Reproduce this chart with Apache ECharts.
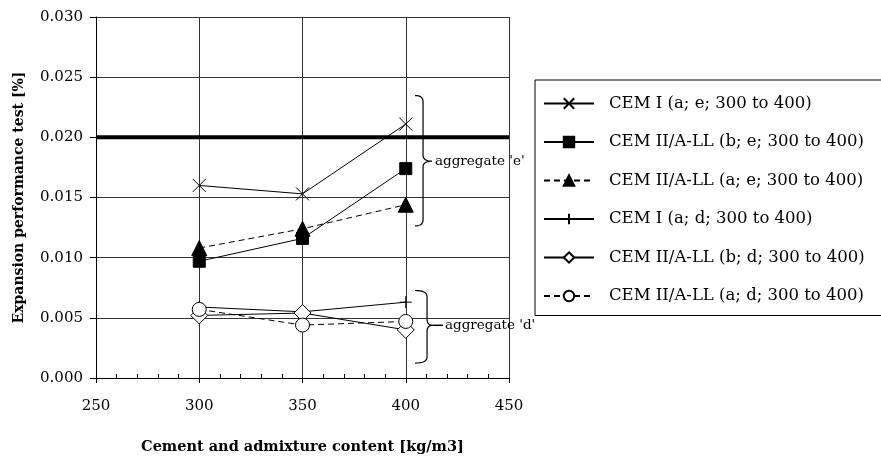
<!DOCTYPE html>
<html>
<head>
<meta charset="utf-8">
<script src="https://cdn.jsdelivr.net/npm/echarts@6/dist/echarts.min.js"></script>
<style>html,body{margin:0;padding:0;background:#fff}#c{width:881px;height:460px}</style>
</head>
<body>
<div id="c"></div>
<script>
// ---- data ----
const categories = [300, 350, 400];
const cemI_e   = [0.0160, 0.0153, 0.0211];
const cemII_b_e = [0.0097, 0.0116, 0.0174];
const cemII_a_e = [0.0108, 0.0124, 0.0144];
const cemI_d   = [0.0059, 0.0055, 0.0063];
const cemII_b_d = [0.0052, 0.0054, 0.0040];
const cemII_a_d = [0.0057, 0.0044, 0.0047];
const limitValue = 0.020;
const seriesNames = [
  'CEM I (a; e; 300 to 400)',
  'CEM II/A-LL (b; e; 300 to 400)',
  'CEM II/A-LL (a; e; 300 to 400)',
  'CEM I (a; d; 300 to 400)',
  'CEM II/A-LL (b; d; 300 to 400)',
  'CEM II/A-LL (a; d; 300 to 400)'
];
const annotationLabels = ["aggregate 'e'", "aggregate 'd'"];

const FONT = '"DejaVu Serif", "Liberation Serif", serif';
const pair = arr => categories.map((x, i) => [x, arr[i]]);

function lineSeries(name, data, symbol, size, fill, dashed) {
  return {
    name, type: 'line', data: pair(data),
    symbol, symbolSize: size,
    lineStyle: { color: '#000', width: 1, type: dashed ? [6, 4] : 'solid' },
    itemStyle: { color: fill, borderColor: '#000', borderWidth: 1 },
    emphasis: { disabled: true },
    z: 3
  };
}

const chart = echarts.init(document.getElementById('c'), null, { renderer: 'canvas' });
const option = {
  animation: false,
  backgroundColor: '#fff',
  textStyle: { fontFamily: FONT, color: '#000' },
  grid: { left: 96, top: 17, right: 372, bottom: 80, containLabel: false },
  xAxis: [{
    type: 'value', min: 250, max: 450, interval: 50,
    name: 'Cement and admixture content [kg/m3]',
    nameLocation: 'middle', nameGap: 62,
    nameTextStyle: { fontFamily: FONT, fontWeight: 'bold', fontSize: 14.5, color: '#000' },
    axisLine: { show: true, lineStyle: { color: '#000', width: 1 } },
    axisTick: { show: true, length: 5, lineStyle: { color: '#000' } },
    axisLabel: { fontFamily: FONT, fontSize: 15, color: '#000', margin: 21 },
    splitLine: { show: true, lineStyle: { color: '#333', width: 1 } }
  }, {
    type: 'value', min: 250, max: 450, interval: 50, position: 'bottom',
    axisLine: { show: false }, axisLabel: { show: false },
    axisTick: { show: false, inside: true },
    minorTick: { show: true, splitNumber: 5, length: 4, lineStyle: { color: '#000' } },
    splitLine: { show: false }
  }],
  yAxis: {
    type: 'value', min: 0, max: 0.03, interval: 0.005,
    name: 'Expansion performance test [%]',
    nameLocation: 'middle', nameGap: 70,
    nameTextStyle: { fontFamily: FONT, fontWeight: 'bold', fontSize: 14, color: '#000' },
    axisLine: { show: true, lineStyle: { color: '#000', width: 1 } },
    axisTick: { show: true, length: 6, lineStyle: { color: '#000' } },
    axisLabel: { fontFamily: FONT, fontSize: 15, color: '#000', margin: 13,
      formatter: v => v.toFixed(3) },
    splitLine: { show: true, lineStyle: { color: '#333', width: 1 } }
  },
  legend: {
    orient: 'vertical', left: 535, top: 80,
    data: seriesNames,
    padding: [15, 400, 11, 8],
    itemWidth: 50, itemHeight: 13, itemGap: 21.5,
    borderColor: '#000', borderWidth: 1,
    textStyle: { fontFamily: FONT, fontSize: 16.5, color: '#000', padding: [0, 0, 0, 10] },
    selectedMode: false
  },
  series: [
    {
      name: 'limit', type: 'line',
      data: [[250, limitValue], [450, limitValue]],
      symbol: 'none', lineStyle: { color: '#000', width: 4 }, z: 2,
      emphasis: { disabled: true }
    },
    lineSeries(seriesNames[0], cemI_e, 'path://M0,0L10,10M0,10L10,0', 13, 'transparent', false),
    lineSeries(seriesNames[1], cemII_b_e, 'rect', 12, '#000', false),
    lineSeries(seriesNames[2], cemII_a_e, 'triangle', 15, '#000', true),
    lineSeries(seriesNames[3], cemI_d, 'path://M5,0L5,10M0,5L10,5', 12, 'transparent', false),
    lineSeries(seriesNames[4], cemII_b_d, 'diamond', 17, '#fff', false),
    lineSeries(seriesNames[5], cemII_a_d, 'circle', 14, '#fff', true)
  ]
};
chart.setOption(option);

// ---- braces + annotation labels (anchored in data coordinates) ----
const braces = [
  { x: 404.5, yTop: 0.02347, yBot: 0.01264, yMid: 0.01802, wv: 8, wp: 17, label: annotationLabels[0], dash: false },
  { x: 404.5, yTop: 0.00727, yBot: 0.00124, yMid: 0.00438, wv: 12, wp: 18, label: annotationLabels[1], dash: true }
];
function quad(p0, p1, p2, out) {
  for (let i = 0; i <= 8; i++) {
    const t = i / 8, a = (1 - t) * (1 - t), b = 2 * (1 - t) * t, c = t * t;
    out.push([a * p0[0] + b * p1[0] + c * p2[0], a * p0[1] + b * p1[1] + c * p2[1]]);
  }
}
const gfx = [];
braces.forEach(b => {
  const t = chart.convertToPixel({ gridIndex: 0 }, [b.x, b.yTop]);
  const bt = chart.convertToPixel({ gridIndex: 0 }, [b.x, b.yBot]);
  const m = chart.convertToPixel({ gridIndex: 0 }, [b.x, b.yMid]);
  const x0 = t[0], xv = x0 + b.wv, xp = x0 + b.wp, r = 6;
  const y0 = t[1], y1 = bt[1], ym = m[1];
  const pts = [];
  quad([x0, y0], [xv, y0], [xv, y0 + r], pts);
  quad([xv, ym - r], [xv, ym], [xp, ym], pts);
  quad([xp, ym], [xv, ym], [xv, ym + r], pts);
  quad([xv, y1 - r], [xv, y1], [x0, y1], pts);
  gfx.push({ type: 'polyline', shape: { points: pts }, style: { stroke: '#000', lineWidth: 1.2, fill: null }, z: 10 });
  let tx = xp + 3;
  if (b.dash) {
    gfx.push({ type: 'line', shape: { x1: xp, y1: ym, x2: xp + 10, y2: ym }, style: { stroke: '#000', lineWidth: 1.5 }, z: 10 });
    tx = xp + 12;
  }
  gfx.push({ type: 'text', x: tx, y: ym, style: { text: b.label, font: '13.5px ' + FONT, fill: '#000', verticalAlign: 'middle', align: 'left' }, z: 10 });
});
chart.setOption({ graphic: gfx });
</script>
</body>
</html>
